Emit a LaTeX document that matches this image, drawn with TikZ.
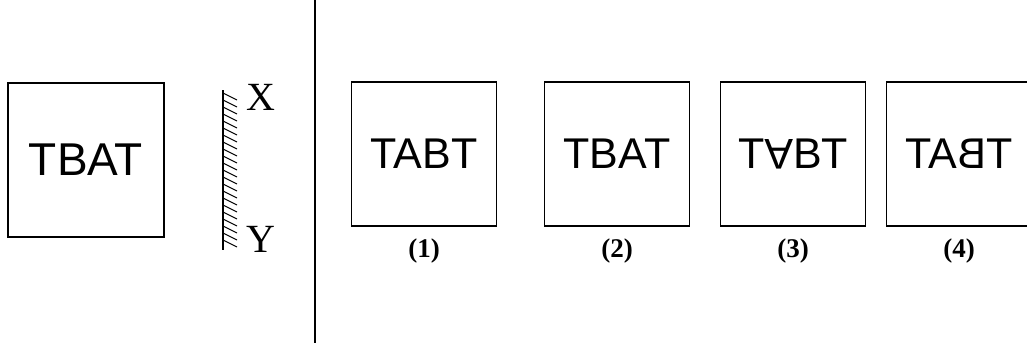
\documentclass[tikz,border=0pt]{standalone}
\usepackage{fontspec}
\setmainfont{Liberation Serif}
\setsansfont{Liberation Sans}
\usepackage{graphicx}
\usetikzlibrary{positioning,calc}

\begin{document}
\begin{tikzpicture}[x=1pt, y=-1pt,
  card/.style={draw, line width=1.3pt, inner sep=0pt, minimum width=145pt, minimum height=144pt,
    font=\sffamily\fontsize{43}{46}\selectfont},
  optlabel/.style={inner sep=0pt, font=\bfseries\fontsize{27}{30}\selectfont},
  endlabel/.style={inner sep=0pt, font=\fontsize{40}{42}\selectfont}]
\clip (0,0) rectangle (1027,343);
\fill[white] (0,0) rectangle (1027,343);
\node[card, minimum width=156pt, minimum height=154pt, font=\sffamily\fontsize{46}{48}\selectfont] (q) at (86,160) {TBAT};
\coordinate (mx) at (223,90);
\coordinate (my) at (223,250);
\draw[line width=1.6pt] (mx) -- (my);
\foreach \k in {0,...,21}
  \draw[line width=1pt] ($(mx)+(0,3+7*\k)$) -- ++(14,7);
\node[endlabel] (x) at (261,97) {X};
\node[endlabel] (y) at (261,239) {Y};
\coordinate (dtop) at (315,0);
\coordinate (dbot) at (315,343);
\draw[line width=1.2pt] (dtop) -- (dbot);
\node[card] (o1) at (424,154) {TABT};
\node[card] (o2) at (617,154) {TBAT};
\node[card] (o3) at (793,154) {T\rotatebox[origin=c]{180}{A}BT};
\node[card] (o4) at (959,154) {TA\reflectbox{B}T};
\node[optlabel, below=12pt of o1] (l1) {(1)};
\node[optlabel, below=12pt of o2] (l2) {(2)};
\node[optlabel, below=12pt of o3] (l3) {(3)};
\node[optlabel, below=12pt of o4] (l4) {(4)};
\end{tikzpicture}
\end{document}
